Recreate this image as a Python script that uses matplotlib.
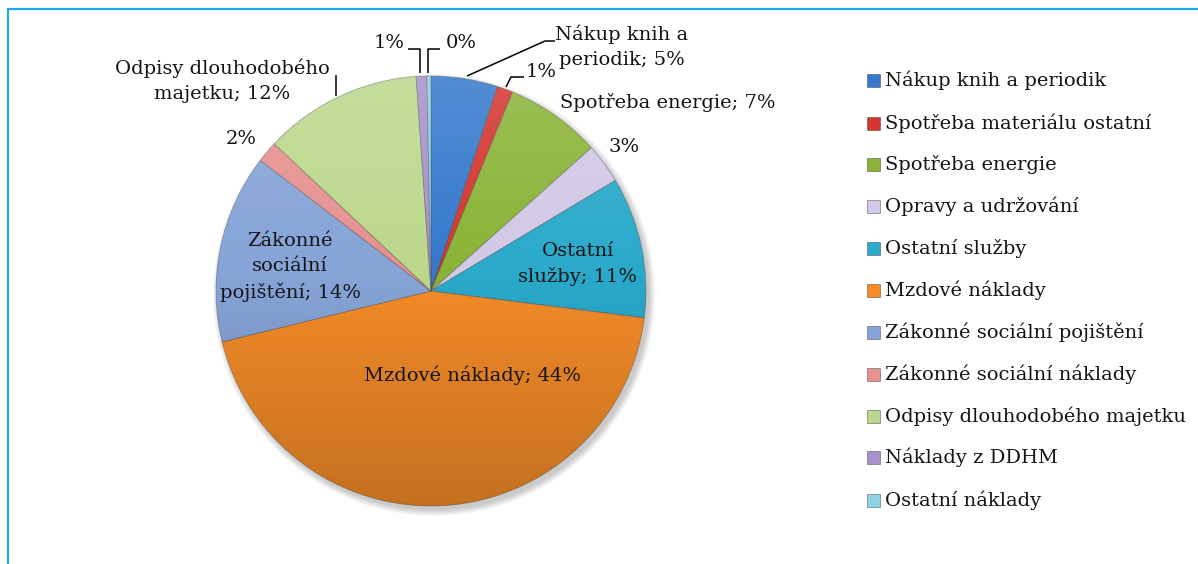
import numpy as np
import matplotlib
matplotlib.use('Agg')
import matplotlib.pyplot as plt
from matplotlib.patches import Circle, Rectangle

# cost categories and their shares (%)
categories = ['Nákup knih a periodik', 'Spotřeba materiálu ostatní', 'Spotřeba energie',
              'Opravy a udržování', 'Ostatní služby', 'Mzdové náklady',
              'Zákonné sociální pojištění', 'Zákonné sociální náklady',
              'Odpisy dlouhodobého majetku', 'Náklady z DDHM', 'Ostatní náklady']
shares = [5.0, 1.2, 7.2, 3.0, 10.6, 44.2, 14.2, 1.6, 11.9, 0.8, 0.3]
colors = ['#3578CC', '#D4362F', '#8AB437', '#D2C9E6', '#2AA9CA', '#F58C28',
          '#86A4D8', '#E69290', '#BCD88C', '#A792CC', '#8AD2E4']

W, H = 1198, 564
plt.rcParams['font.family'] = ['DejaVu Serif']
FS = 14
TXT = '#141414'

fig = plt.figure(figsize=(W / 100, H / 100), dpi=100)
ax = fig.add_axes([0, 0, 1, 1])

cx, cy, r = 431, H - 291, 215

# soft shadow under the pie
for k in range(7):
    ax.add_patch(Circle((cx + 3, cy - 4), r + k * 1.0, color='black', alpha=0.03, zorder=0, lw=0))

wedges, _ = ax.pie(shares, colors=colors, startangle=90, counterclock=False,
                   center=(cx, cy), radius=r,
                   wedgeprops=dict(edgecolor=(0.25, 0.25, 0.25, 0.35), linewidth=0.7, zorder=1))

# light-top / dark-bottom shading over the pie
n = 256
t = np.linspace(0, 1, n)
rgba = np.zeros((n, 2, 4))
top = t < 0.45
rgba[top, :, :3] = 1.0
rgba[top, :, 3] = (0.15 * (1 - t[top] / 0.45))[:, None]
rgba[~top, :, 3] = (0.2 * (t[~top] - 0.45) / 0.55)[:, None]
im = ax.imshow(rgba, extent=(cx - r, cx + r, cy - r, cy + r), origin='upper',
               interpolation='bilinear', aspect='auto', zorder=3)
im.set_clip_path(Circle((cx, cy), r, transform=ax.transData))

# data labels
def pct(v):
    return f'{int(round(v))}%'

def label(i, breaks=()):
    words = f'{categories[i]}; {pct(shares[i])}'.split(' ')
    out = words[0]
    for k, w in enumerate(words[1:]):
        out += ('\n' if k in breaks else ' ') + w
    return out

lab = [
    (label(0, (2,)), 622, 47),
    (pct(shares[1]), 541, 72),
    (label(2), 668, 103),
    (pct(shares[3]), 624, 147),
    (label(4, (0,)), 578, 264),
    (label(5), 472, 375),
    (label(6, (0, 1)), 290, 267),
    (pct(shares[7]), 241, 139),
    (label(8, (1,)), 222, 81),
    (pct(shares[9]), 389, 43),
    (pct(shares[10]), 461, 43),
]
for s, x, y in lab:
    ax.text(x, H - y, s, ha='center', va='center', fontsize=FS, color=TXT,
            linespacing=1.5, zorder=5)

# leader lines
leaders = [
    [(467, 76), (545, 41), (555, 41)],
    [(506, 87), (511, 77), (524, 77)],
    [(336, 96), (336, 75)],
    [(420, 73), (420, 49), (408, 49)],
    [(428, 73), (428, 49), (440, 49)],
]
for pts in leaders:
    xs = [p[0] for p in pts]
    ys = [H - p[1] for p in pts]
    ax.plot(xs, ys, color='black', lw=1.1, zorder=4, solid_capstyle='butt')

# legend
row_y = [80, 123, 164, 206, 248, 290, 332, 374, 416, 457, 500]
for i, name in enumerate(categories):
    y = H - row_y[i]
    ax.add_patch(Rectangle((867, y - 6.5), 13, 13, facecolor=colors[i],
                           edgecolor=(0.2, 0.2, 0.2, 0.5), lw=0.6, zorder=5))
    ax.text(885, y, name, ha='left', va='center', fontsize=FS, color=TXT, zorder=5)

# chart area border (top and left visible)
ax.plot([8, 8, W], [0, H - 9, H - 9], color='#1AABE8', lw=1.6, zorder=6,
        solid_joinstyle='miter')

ax.set_xlim(0, W)
ax.set_ylim(0, H)
ax.set_aspect('auto')
ax.axis('off')

fig.savefig('out.png', dpi=100)
